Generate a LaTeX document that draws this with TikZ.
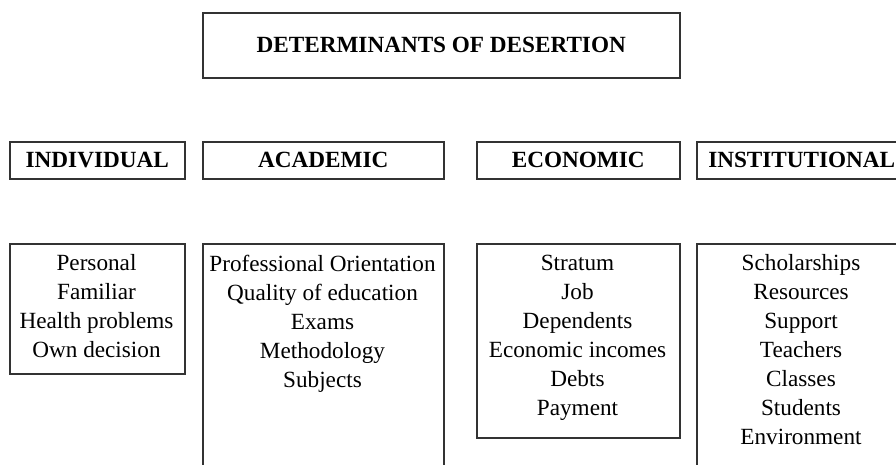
\documentclass[tikz,border=0pt]{standalone}
\usepackage{fontspec}
\setmainfont{Liberation Serif}
\begin{document}
\begin{tikzpicture}[x=1pt,y=-1pt,
  box/.style={draw=black!80,line width=1.5pt,rectangle,inner sep=0pt,anchor=north west},
  head/.style={font=\fontsize{23.2}{29}\selectfont\bfseries,inner sep=0pt},
  items/.style={font=\fontsize{23.2}{29}\selectfont,align=center,inner sep=0pt,anchor=north}]
\useasboundingbox (0,0) rectangle (896,464);
\clip (0,0) rectangle (896,464);
% title
\node[box,minimum width=477pt,minimum height=65pt] (tbox) at (202,12) {};
\node[head] (title) at (tbox.center) {DETERMINANTS OF DESERTION};
% headers
\node[box,minimum width=175pt,minimum height=37pt] (hind) at (9,141) {};
\node[head] (tind) at (hind.center) {INDIVIDUAL};
\node[box,minimum width=241pt,minimum height=37pt] (hacad) at (202,141) {};
\node[head] (tacad) at (hacad.center) {ACADEMIC};
\node[box,minimum width=203pt,minimum height=37pt] (heco) at (476,141) {};
\node[head] (teco) at (heco.center) {ECONOMIC};
\node[box,minimum width=210pt,minimum height=37pt] (hins) at (696,141) {};
\node[head] (tins) at (hins.center) {INSTITUTIONAL};
% lists
\node[box,minimum width=175pt,minimum height=130pt] (bind) at (9,243) {};
\node[items] (lind) at (96.5,254.5) {Personal\\Familiar\\Health problems\\Own decision};
\node[box,minimum width=241pt,minimum height=240pt] (bacad) at (202,243) {};
\node[items] (lacad) at (322.5,254.5) {Professional Orientation\\Quality of education\\Exams\\Methodology\\Subjects};
\node[box,minimum width=203pt,minimum height=194pt] (beco) at (476,243) {};
\node[items] (leco) at (577.5,254.5) {Stratum\\Job\\Dependents\\Economic incomes\\Debts\\Payment};
\node[box,minimum width=210pt,minimum height=240pt] (bins) at (696,243) {};
\node[items] (lins) at (801,254.5) {Scholarships\\Resources\\Support\\Teachers\\Classes\\Students\\Environment};
\end{tikzpicture}
\end{document}
